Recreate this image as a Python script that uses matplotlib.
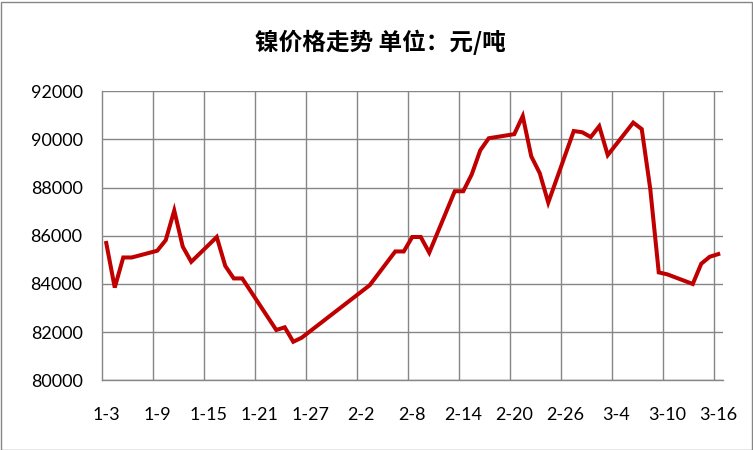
import datetime
import matplotlib
matplotlib.use("Agg")
import matplotlib.pyplot as plt
from matplotlib.patches import Rectangle

# nickel price, yuan per ton (2017)
dates = ["01-03", "01-04", "01-05", "01-06", "01-09", "01-10", "01-11", "01-12",
         "01-13", "01-16", "01-17", "01-18", "01-19", "01-23", "01-24", "01-25",
         "01-26", "02-03", "02-06", "02-07", "02-08", "02-09", "02-10", "02-13",
         "02-14", "02-15", "02-16", "02-17", "02-20", "02-21", "02-22", "02-23",
         "02-24", "02-27", "02-28", "03-01", "03-02", "03-03", "03-06", "03-07",
         "03-08", "03-09", "03-10", "03-13", "03-14", "03-15", "03-16"]
prices = [85700, 83850, 85100, 85100, 85380, 85820, 87050, 85550,
          84920, 85950, 84750, 84230, 84230, 82090, 82200, 81600,
          81770, 83950, 85350, 85350, 85950, 85950, 85300, 87850,
          87850, 88550, 89550, 90050, 90220, 90970, 89300, 88600,
          87380, 90350, 90300, 90100, 90550, 89350, 90700, 90430,
          87950, 84480, 84400, 84000, 84840, 85130, 85240]

tick_labels = ["1-3", "1-9", "1-15", "1-21", "1-27", "2-2", "2-8",
               "2-14", "2-20", "2-26", "3-4", "3-10", "3-16"]

title = "镍价格走势 单位：元/吨"

start = datetime.date(2017, 1, 3)
days = [(datetime.date(2017, int(s[:2]), int(s[3:])) - start).days for s in dates]

fig = plt.figure(figsize=(7.53, 4.5), dpi=100)
ax = fig.add_axes([102/753, 1-380.3/450, 620.5/753, 289/450])

ax.plot(days, prices, color="#C00000", linewidth=2.9, solid_joinstyle="miter")

ax.set_xlim(-0.5, 72.5)
ax.set_ylim(80000, 92000)
ax.set_yticks(range(80000, 92001, 2000))
ax.set_xticks(range(0, 73, 6))
ax.set_xticklabels(tick_labels)
ax.set_xticks([k - 0.5 for k in range(6, 73, 6)], minor=True)

ax.grid(axis="y", which="major", color="#868686", linewidth=1)
ax.grid(axis="x", which="minor", color="#868686", linewidth=1)
ax.set_axisbelow(True)

for s in ["top", "right"]:
    ax.spines[s].set_visible(False)
for s in ["left", "bottom"]:
    ax.spines[s].set_color("#868686")
    ax.spines[s].set_linewidth(1)

ax.tick_params(axis="both", which="both", length=0, labelsize=13)
ax.tick_params(axis="y", pad=14)
ax.tick_params(axis="x", pad=19)
for lab in ax.get_xticklabels() + ax.get_yticklabels():
    lab.set_fontfamily(["Lato", "DejaVu Sans"])

fig.text(0.505, 1-42/450, title, ha="center", va="center", fontsize=17,
         fontweight="bold", family=["Noto Sans CJK SC", "DejaVu Sans"])

fig.patches.append(Rectangle((0.5/753, 0.5/450), 751/753, 448/450,
                             transform=fig.transFigure, fill=False,
                             edgecolor="#868686", linewidth=1))

fig.savefig("out.png", dpi=100)
